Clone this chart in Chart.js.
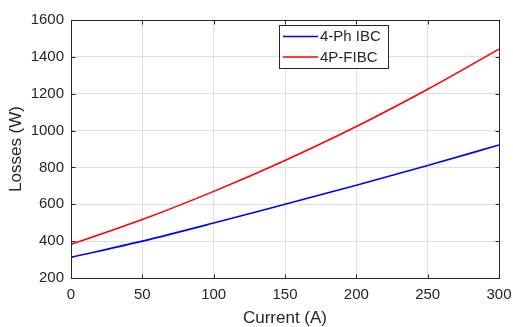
<!DOCTYPE html>
<html lang="en">
<head>
<meta charset="UTF-8">
<title>Losses vs Current</title>
<script src="https://cdn.jsdelivr.net/npm/chart.js@4.4.0/dist/chart.umd.min.js"></script>
<style>
  html, body { margin: 0; padding: 0; background: #fff; }
  #wrap { width: 513px; height: 327px; }
</style>
</head>
<body>
<div id="wrap"><canvas id="myChart" width="513" height="327"></canvas></div>
<script>
  // values
  const current = [0, 50, 100, 150, 200, 250, 300]
  const ibcLoss = [312, 400, 498, 600, 703, 810, 922]
  const fibcLoss = [382, 517, 670, 838, 1022, 1224, 1442]
  const seriesNames = ['4-Ph IBC', '4P-FIBC']
  const xTicks = [0, 50, 100, 150, 200, 250, 300]
  const yTicks = [200, 400, 600, 800, 1000, 1200, 1400, 1600]

  const axisColor = '#262626'
  const font = 'Liberation Sans, Arial, Helvetica, sans-serif'

  function toPoints(xs, ys) {
    return xs.map((x, i) => ({ x: x, y: ys[i] }))
  }

  // box, inward ticks and the boxed legend, drawn like a MATLAB axes
  const framePlugin = {
    id: 'frame',
    afterDraw(chart) {
      const ctx = chart.ctx
      const a = chart.chartArea
      const xs = chart.scales.x, ys = chart.scales.y
      const L = Math.round(a.left) + 0.5, R = Math.round(a.right) + 0.5
      const T = Math.round(a.top) + 0.5, B = Math.round(a.bottom) + 0.5
      ctx.save()
      ctx.strokeStyle = axisColor
      ctx.lineWidth = 1
      ctx.strokeRect(L, T, R - L, B - T)
      ctx.beginPath()
      xTicks.forEach(v => {
        let px = Math.round(xs.getPixelForValue(v)) + 0.5
        ctx.moveTo(px, B); ctx.lineTo(px, B - 4)
        ctx.moveTo(px, T); ctx.lineTo(px, T + 4)
      })
      yTicks.forEach(v => {
        let py = Math.round(ys.getPixelForValue(v)) + 0.5
        ctx.moveTo(L, py); ctx.lineTo(L + 4, py)
        ctx.moveTo(R, py); ctx.lineTo(R - 4, py)
      })
      ctx.stroke()

      // legend
      const lx = 279.5, ly = 25.5, lw = 109, lh = 43
      ctx.fillStyle = '#fff'
      ctx.fillRect(lx, ly, lw, lh)
      ctx.strokeStyle = axisColor
      ctx.strokeRect(lx, ly, lw, lh)
      ctx.font = '15px ' + font
      ctx.textBaseline = 'middle'
      ctx.textAlign = 'left'
      chart.data.datasets.forEach((ds, i) => {
        let cy = 36.5 + i * 20.5
        ctx.strokeStyle = ds.borderColor
        ctx.lineWidth = 1.5
        ctx.beginPath()
        ctx.moveTo(283, cy); ctx.lineTo(318, cy)
        ctx.stroke()
        ctx.fillStyle = axisColor
        ctx.fillText(ds.label, 320, cy + 0.5)
      })
      ctx.restore()
    }
  }

  const data = {
    datasets: [{
      label: seriesNames[0],
      data: toPoints(current, ibcLoss),
      borderColor: '#0000ff',
      borderWidth: 1.6,
      pointRadius: 0,
      cubicInterpolationMode: 'monotone',
      fill: false
    }, {
      label: seriesNames[1],
      data: toPoints(current, fibcLoss),
      borderColor: '#ff0000',
      borderWidth: 1.6,
      pointRadius: 0,
      cubicInterpolationMode: 'monotone',
      fill: false
    }]
  }

  let ctx = document.getElementById('myChart')
  let chart = new Chart(ctx, {
    type: 'line',
    data: data,
    options: {
      responsive: false,
      animation: false,
      devicePixelRatio: 1,
      layout: { padding: { top: 20, right: 14, left: 0, bottom: 0 } },
      plugins: {
        legend: { display: false },
        tooltip: { enabled: false }
      },
      scales: {
        x: {
          type: 'linear',
          min: 0, max: 300,
          afterBuildTicks: s => { s.ticks = xTicks.map(v => ({ value: v })) },
          afterFit: s => { s.height = 49; s.paddingLeft = 0; s.paddingRight = 0 },
          grid: { color: '#e0e0e0', drawTicks: false },
          border: { display: false },
          ticks: { color: axisColor, font: { family: font, size: 15 }, padding: 8, maxRotation: 0 },
          title: { display: true, text: 'Current (A)', color: axisColor, font: { family: font, size: 17 }, padding: { top: 0, bottom: -1.5 } }
        },
        y: {
          min: 200, max: 1600,
          afterBuildTicks: s => { s.ticks = yTicks.map(v => ({ value: v })) },
          afterFit: s => { s.width = 71; s.paddingTop = 0; s.paddingBottom = 0 },
          grid: { color: '#e0e0e0', drawTicks: false },
          border: { display: false },
          ticks: { color: axisColor, font: { family: font, size: 15 }, padding: 7, callback: v => String(v) },
          title: { display: true, text: 'Losses (W)', color: axisColor, font: { family: font, size: 17 }, padding: { top: 6.5, bottom: 0 } }
        }
      }
    },
    plugins: [framePlugin]
  })
</script>
</body>
</html>
